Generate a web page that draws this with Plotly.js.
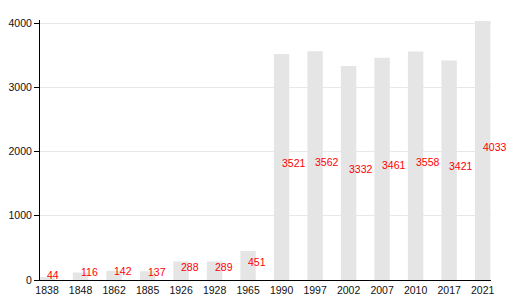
<!DOCTYPE html>
<html>
<head>
<meta charset="utf-8">
<script src="https://cdn.plot.ly/plotly-3.0.1.min.js"></script>
<style>html,body{margin:0;padding:0;background:#fff;}#chart{width:530px;height:300px;}</style>
</head>
<body>
<div id="chart"></div>
<script>
var years = ["1838","1848","1862","1885","1926","1928","1965","1990","1997","2002","2007","2010","2017","2021"];
var population = [44,116,142,137,288,289,451,3521,3562,3332,3461,3558,3421,4033];
var yTicks = [0,1000,2000,3000,4000];

var bars = {
  type: 'bar',
  x: years,
  y: population,
  width: 0.46,
  marker: {color: '#e5e5e5', line: {width: 0}},
  hoverinfo: 'x+y'
};

var annotations = years.map(function(yr, i){
  return {
    x: i, y: population[i] / 2, xref: 'x', yref: 'y',
    text: String(population[i]), showarrow: false,
    xanchor: 'left', yanchor: 'middle', xshift: -2, yshift: 4,
    font: {family: 'Liberation Sans, Arial, sans-serif', size: 10.5, color: '#ff0000'}
  };
});

var layout = {
  width: 530, height: 300,
  margin: {l: 40, r: 39, t: 20, b: 20, pad: 0},
  paper_bgcolor: '#ffffff', plot_bgcolor: '#ffffff',
  showlegend: false,
  xaxis: {
    type: 'category',
    range: [-0.21, 13.25],
    showgrid: false, zeroline: false,
    showline: true, linecolor: '#000000', linewidth: 1,
    ticks: '', ticklen: 0,
    tickfont: {family: 'Liberation Sans, Arial, sans-serif', size: 10.5, color: '#111111'}
  },
  yaxis: {
    range: [0, 4050],
    tickvals: yTicks,
    ticktext: yTicks.map(String),
    showgrid: true, gridcolor: '#e8e8e8', gridwidth: 1,
    zeroline: false,
    showline: true, linecolor: '#000000', linewidth: 1,
    ticks: 'outside', ticklen: 5, tickcolor: '#000000',
    tickfont: {family: 'Liberation Sans, Arial, sans-serif', size: 10.5, color: '#111111'}
  },
  annotations: annotations
};

Plotly.newPlot('chart', [bars], layout, {displayModeBar: false, staticPlot: true});
</script>
</body>
</html>
